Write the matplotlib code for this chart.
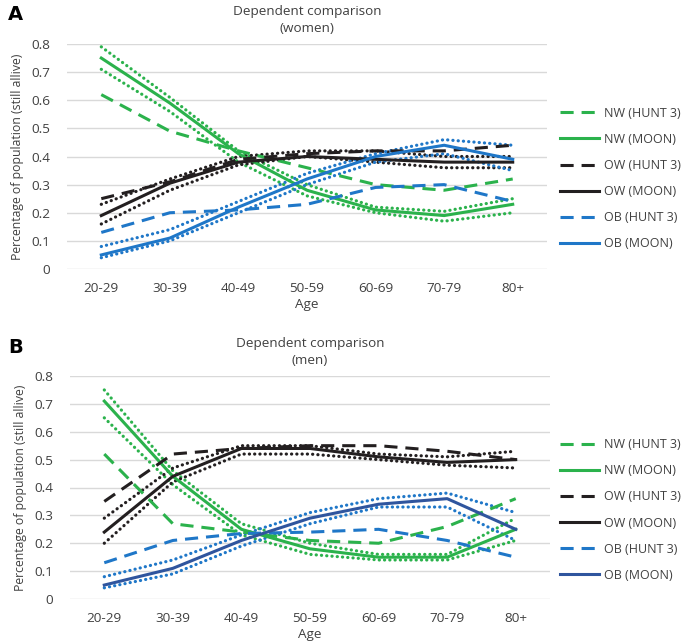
import matplotlib
matplotlib.use("Agg")
import matplotlib.pyplot as plt
from matplotlib.lines import Line2D

plt.rcParams['font.family'] = ['Open Sans', 'DejaVu Sans']

ages = ['20-29', '30-39', '40-49', '50-59', '60-69', '70-79', '80+']

# Women (panel A)
nw_hunt_w = [0.62, 0.49, 0.42, 0.36, 0.30, 0.28, 0.32]
nw_moon_w = [0.75, 0.59, 0.41, 0.28, 0.21, 0.19, 0.23]
nw_moon_w_hi = [0.79, 0.61, 0.42, 0.30, 0.22, 0.205, 0.25]
nw_moon_w_lo = [0.71, 0.56, 0.38, 0.26, 0.20, 0.17, 0.20]
ow_hunt_w = [0.25, 0.31, 0.39, 0.41, 0.42, 0.42, 0.44]
ow_moon_w = [0.19, 0.305, 0.38, 0.40, 0.39, 0.38, 0.38]
ow_moon_w_hi = [0.23, 0.32, 0.40, 0.42, 0.42, 0.40, 0.40]
ow_moon_w_lo = [0.16, 0.28, 0.37, 0.40, 0.38, 0.36, 0.36]
ob_hunt_w = [0.13, 0.20, 0.21, 0.23, 0.29, 0.30, 0.24]
ob_moon_w = [0.05, 0.11, 0.22, 0.32, 0.40, 0.44, 0.39]
ob_moon_w_hi = [0.08, 0.14, 0.24, 0.34, 0.41, 0.46, 0.44]
ob_moon_w_lo = [0.04, 0.10, 0.20, 0.30, 0.38, 0.41, 0.35]

# Men (panel B)
nw_hunt_m = [0.52, 0.27, 0.24, 0.21, 0.20, 0.26, 0.36]
nw_moon_m = [0.71, 0.44, 0.25, 0.18, 0.15, 0.15, 0.25]
nw_moon_m_hi = [0.75, 0.46, 0.27, 0.20, 0.16, 0.16, 0.29]
nw_moon_m_lo = [0.65, 0.41, 0.23, 0.16, 0.14, 0.14, 0.21]
ow_hunt_m = [0.35, 0.52, 0.54, 0.55, 0.55, 0.53, 0.50]
ow_moon_m = [0.24, 0.44, 0.54, 0.54, 0.51, 0.49, 0.50]
ow_moon_m_hi = [0.29, 0.47, 0.55, 0.55, 0.52, 0.51, 0.53]
ow_moon_m_lo = [0.20, 0.42, 0.52, 0.52, 0.50, 0.48, 0.47]
ob_hunt_m = [0.13, 0.21, 0.235, 0.24, 0.25, 0.21, 0.15]
ob_moon_m = [0.05, 0.11, 0.21, 0.29, 0.34, 0.36, 0.25]
ob_moon_m_hi = [0.08, 0.14, 0.23, 0.31, 0.36, 0.38, 0.31]
ob_moon_m_lo = [0.04, 0.09, 0.19, 0.27, 0.33, 0.33, 0.21]

yticks = [0, 0.1, 0.2, 0.3, 0.4, 0.5, 0.6, 0.7, 0.8]
ytick_labels = ['0', '0.1', '0.2', '0.3', '0.4', '0.5', '0.6', '0.7', '0.8']

GREEN = '#2BB24C'
BLACK = '#231F20'
BLUE = '#1F77C8'
DBLUE = '#2F559E'
GRID = '#D9D9D9'
TXT = '#404040'
FS = 9.7
FS_LEG = 9.0
FS_YLAB = 8.8

fig = plt.figure(figsize=(6.86, 6.44), dpi=100)

DASH = (4.3, 2.6)
DOT = (0.05, 1.6)


def panel(rect, title, series, legend_series, legend_y, letter, letter_y):
    ax = fig.add_axes(rect)
    x = list(range(len(ages)))
    for vals, col, style in series:
        if style == 'solid':
            ax.plot(x, vals, color=col, lw=2.2, solid_joinstyle='round')
        elif style == 'dash':
            ax.plot(x, vals, color=col, lw=2.2, dashes=DASH, dash_capstyle='butt')
        else:
            ax.plot(x, vals, color=col, lw=2.3, dashes=DOT, dash_capstyle='round')
    ax.set_xlim(-0.5, len(ages) - 0.5)
    ax.set_ylim(0, 0.8)
    ax.set_yticks(yticks)
    ax.set_yticklabels(ytick_labels)
    ax.set_xticks(x)
    ax.set_xticklabels(ages)
    ax.tick_params(length=0, labelsize=FS, labelcolor=TXT)
    ax.tick_params(axis='y', pad=12)
    ax.tick_params(axis='x', pad=9)
    for s in ax.spines.values():
        s.set_visible(False)
    ax.grid(axis='y', color=GRID, lw=1.0)
    ax.set_axisbelow(True)
    ax.set_title(title, fontsize=FS, color=TXT, pad=9, linespacing=1.3)
    ax.set_xlabel('Age', fontsize=FS, color=TXT, labelpad=2.5)
    ax.set_ylabel('Percentage of population (still allive)', fontsize=FS_YLAB,
                  color=TXT, labelpad=5)
    handles = []
    labels = []
    for vals, col, style, lab in legend_series:
        if style == 'solid':
            h = Line2D([], [], color=col, lw=2.2)
        else:
            h = Line2D([], [], color=col, lw=2.2, dashes=DASH)
        handles.append(h)
        labels.append(lab)
    fig.legend(handles, labels, loc='center left', bbox_to_anchor=(560 / 686, legend_y),
               frameon=False, fontsize=FS_LEG, handlelength=3.1, handletextpad=0.45,
               labelspacing=1.05, borderpad=0, borderaxespad=0, labelcolor=TXT)
    fig.text(8 / 686, letter_y, letter, fontsize=14, fontweight='bold', color='black',
             ha='left', va='center', family='DejaVu Sans')
    return ax


legend_a = [
    (nw_hunt_w, GREEN, 'dash', 'NW (HUNT 3)'),
    (nw_moon_w, GREEN, 'solid', 'NW (MOON)'),
    (ow_hunt_w, BLACK, 'dash', 'OW (HUNT 3)'),
    (ow_moon_w, BLACK, 'solid', 'OW (MOON)'),
    (ob_hunt_w, BLUE, 'dash', 'OB (HUNT 3)'),
    (ob_moon_w, BLUE, 'solid', 'OB (MOON)'),
]
legend_b = [
    (nw_hunt_m, GREEN, 'dash', 'NW (HUNT 3)'),
    (nw_moon_m, GREEN, 'solid', 'NW (MOON)'),
    (ow_hunt_m, BLACK, 'dash', 'OW (HUNT 3)'),
    (ow_moon_m, BLACK, 'solid', 'OW (MOON)'),
    (ob_hunt_m, BLUE, 'dash', 'OB (HUNT 3)'),
    (ob_moon_m, DBLUE, 'solid', 'OB (MOON)'),
]

series_a = [
    (nw_moon_w_hi, GREEN, 'dot'), (nw_moon_w_lo, GREEN, 'dot'),
    (ow_moon_w_hi, BLACK, 'dot'), (ow_moon_w_lo, BLACK, 'dot'),
    (ob_moon_w_hi, BLUE, 'dot'), (ob_moon_w_lo, BLUE, 'dot'),
    (nw_hunt_w, GREEN, 'dash'), (nw_moon_w, GREEN, 'solid'),
    (ow_hunt_w, BLACK, 'dash'), (ow_moon_w, BLACK, 'solid'),
    (ob_hunt_w, BLUE, 'dash'), (ob_moon_w, BLUE, 'solid'),
]
series_b = [
    (nw_moon_m_hi, GREEN, 'dot'), (nw_moon_m_lo, GREEN, 'dot'),
    (ow_moon_m_hi, BLACK, 'dot'), (ow_moon_m_lo, BLACK, 'dot'),
    (ob_moon_m_hi, BLUE, 'dot'), (ob_moon_m_lo, BLUE, 'dot'),
    (nw_hunt_m, GREEN, 'dash'), (nw_moon_m, GREEN, 'solid'),
    (ow_hunt_m, BLACK, 'dash'), (ow_moon_m, BLACK, 'solid'),
    (ob_hunt_m, BLUE, 'dash'), (ob_moon_m, DBLUE, 'solid'),
]

panel([67 / 686, 1 - 269 / 644, 480 / 686, 225 / 644],
      'Dependent comparison\n(women)', series_a, legend_a, 1 - 178.5 / 644, 'A', 1 - 15 / 644)
panel([70 / 686, 1 - 599 / 644, 480 / 686, 223 / 644],
      'Dependent comparison\n(men)', series_b, legend_b, 1 - 510 / 644, 'B', 1 - 347 / 644)

fig.savefig('out.png', dpi=100)
